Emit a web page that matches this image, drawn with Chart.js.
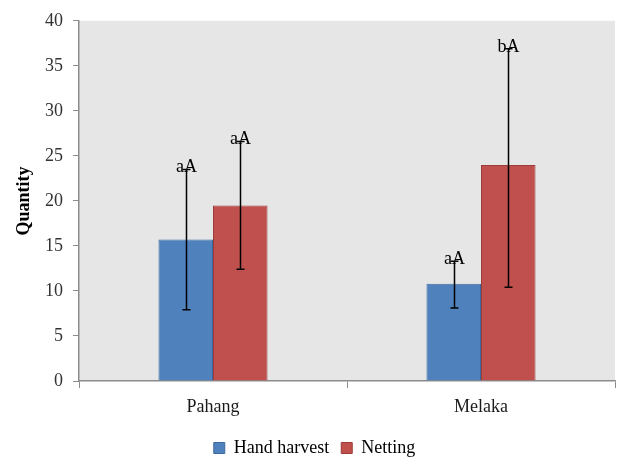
<!DOCTYPE html>
<html>
<head>
<meta charset="utf-8">
<script src="https://cdn.jsdelivr.net/npm/chart.js@4/dist/chart.umd.min.js"></script>
<style>
  html, body { margin: 0; padding: 0; background: #ffffff; }
  #wrap { width: 618px; height: 460px; position: relative; }
</style>
</head>
<body>
<div id="wrap"><canvas id="c"></canvas></div>
<script>
// Sites and treatments
const categories = ['Pahang', 'Melaka'];
const seriesNames = ['Hand harvest', 'Netting'];

// Mean quantity per site
const handHarvest = [15.7, 10.8];
const netting = [19.5, 24.0];

// Error bar ends (lower / upper)
const handLow = [7.9, 8.1];
const handHigh = [23.5, 13.3];
const netLow = [12.4, 10.4];
const netHigh = [26.6, 36.9];

// Significance letters shown above the error bars
const handLetters = ['aA', 'aA'];
const netLetters = ['aA', 'bA'];

// Y axis ticks
const yTicks = [0, 5, 10, 15, 20, 25, 30, 35, 40];

const serif = '"Liberation Serif", "Times New Roman", serif';
Chart.defaults.font.family = serif;

const errors = [
  { low: handLow, high: handHigh, letters: handLetters },
  { low: netLow, high: netHigh, letters: netLetters }
];

// Grey plotting area behind the bars
const plotBackground = {
  id: 'plotBackground',
  beforeDraw(chart) {
    const { ctx, chartArea: a } = chart;
    ctx.save();
    ctx.fillStyle = '#e6e6e6';
    ctx.fillRect(a.left, a.top, a.right - a.left, a.bottom - a.top);
    ctx.restore();
  }
};

// Error bars with caps and the letter labels on top
const errorBars = {
  id: 'errorBars',
  afterDatasetsDraw(chart) {
    const { ctx } = chart;
    const y = chart.scales.y;
    ctx.save();
    chart.data.datasets.forEach((ds, di) => {
      const meta = chart.getDatasetMeta(di);
      const e = errors[di];
      meta.data.forEach((bar, i) => {
        const x = Math.round(bar.x) + 0.5;
        const yHi = y.getPixelForValue(e.high[i]);
        const yLo = y.getPixelForValue(e.low[i]);
        ctx.strokeStyle = '#000000';
        ctx.lineWidth = 1.5;
        ctx.beginPath();
        ctx.moveTo(x, yHi); ctx.lineTo(x, yLo);
        ctx.moveTo(x - 4, yHi); ctx.lineTo(x + 4, yHi);
        ctx.moveTo(x - 4, yLo); ctx.lineTo(x + 4, yLo);
        ctx.stroke();
        ctx.fillStyle = '#000000';
        ctx.font = '18px ' + serif;
        ctx.textAlign = 'center';
        ctx.textBaseline = 'alphabetic';
        ctx.fillText(e.letters[i], x, yHi + 3);
      });
    });
    ctx.restore();
  }
};

new Chart(document.getElementById('c'), {
  type: 'bar',
  data: {
    labels: categories,
    datasets: [
      {
        label: seriesNames[0],
        data: handHarvest,
        backgroundColor: '#4f81bd',
        borderColor: '#3d6a9e',
        borderWidth: 1
      },
      {
        label: seriesNames[1],
        data: netting,
        backgroundColor: '#c0504d',
        borderColor: '#9b3c39',
        borderWidth: 1
      }
    ]
  },
  options: {
    responsive: true,
    maintainAspectRatio: false,
    animation: false,
    devicePixelRatio: 1,
    categoryPercentage: 0.407,
    barPercentage: 1.0,
    layout: { padding: { top: 19, right: 3, left: 14, bottom: -7 } },
    plugins: {
      tooltip: { enabled: false },
      legend: {
        position: 'bottom',
        labels: {
          boxWidth: 11,
          boxHeight: 11,
          padding: 12,
          color: '#000000',
          font: { family: serif, size: 18 }
        }
      }
    },
    scales: {
      x: {
        grid: {
          drawOnChartArea: false,
          color: '#8c8c8c',
          tickLength: 7,
          offset: true
        },
        border: { color: '#8c8c8c', width: 1.5 },
        ticks: {
          color: '#1a1a1a',
          padding: 8,
          font: { family: serif, size: 18 }
        },
        afterFit(scale) { scale.height = 46; }
      },
      y: {
        min: 0,
        max: 40,
        afterBuildTicks(scale) { scale.ticks = yTicks.map(v => ({ value: v })); },
        grid: {
          drawOnChartArea: false,
          color: '#8c8c8c',
          tickLength: 6
        },
        border: { color: '#8c8c8c', width: 1.5 },
        ticks: {
          color: '#333333',
          padding: 10,
          font: { family: serif, size: 18 }
        },
        title: {
          display: true,
          text: 'Quantity',
          color: '#000000',
          padding: 0,
          font: { family: serif, size: 18, weight: 'bold' }
        },
        afterFit(scale) { scale.width = 65; }
      }
    }
  },
  plugins: [plotBackground, errorBars]
});
</script>
</body>
</html>
